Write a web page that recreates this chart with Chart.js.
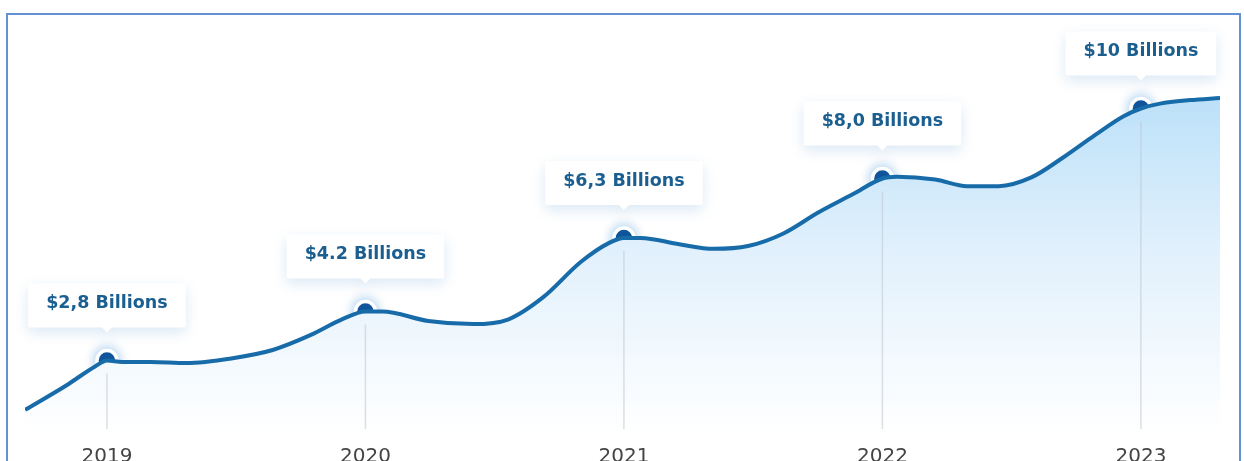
<!DOCTYPE html>
<html>
<head>
<meta charset="utf-8">
<script src="https://cdn.jsdelivr.net/npm/chart.js@4.4.1/dist/chart.umd.min.js"></script>
<style>
  html, body { margin: 0; padding: 0; background: #fff; overflow: hidden; }
  #wrap { position: relative; width: 1244px; height: 461px; overflow: hidden; }
  #box { position: absolute; left: 0; top: 0; width: 1244px; height: 475px; }
  #frame {
    position: absolute; left: 6px; top: 13px; width: 1231px; height: 470px;
    border: 2px solid #6291d4; border-bottom: none; pointer-events: none;
  }
</style>
</head>
<body>
<div id="wrap">
  <div id="box"><canvas id="revChart"></canvas></div>
  <div id="frame"></div>
</div>
<script>
// Receita anual (bilhões de dólares)
const years = [2019, 2020, 2021, 2022, 2023];
const revenue = [2.8, 4.2, 6.3, 8.0, 10];
const revenueLabels = ['$2,8 Billions', '$4.2 Billions', '$6,3 Billions', '$8,0 Billions', '$10 Billions'];

// Traçado da curva de tendência (ano, valor)
const curveYears = [
  2018.683, 2018.841, 2018.954, 2019,
  2019.059, 2019.170, 2019.307, 2019.481, 2019.641, 2019.789, 2019.911, 2020,
  2020.065, 2020.243, 2020.417, 2020.551, 2020.688, 2020.834, 2020.943, 2021,
  2021.065, 2021.214, 2021.347, 2021.480, 2021.617, 2021.750, 2021.883, 2022,
  2022.056, 2022.204, 2022.327, 2022.450, 2022.576, 2022.699, 2022.822, 2022.933, 2023,
  2023.074, 2023.190, 2023.306
];
const curveValues = [
  1.39, 2.08, 2.63, 2.8,
  2.76, 2.76, 2.73, 2.86, 3.10, 3.53, 3.98, 4.2,
  4.2, 3.93, 3.84, 3.97, 4.61, 5.62, 6.16, 6.3,
  6.3, 6.12, 5.99, 6.07, 6.43, 7.02, 7.54, 8.0,
  8.05, 7.97, 7.78, 7.78, 8.03, 8.60, 9.24, 9.78, 10,
  10.14, 10.24, 10.30
];

const xMin = 2018.683;
const xMax = 2023.306;

const lineColor = '#186ba9';
const labelColor = '#1b5e90';

// Linhas verticais de cada ano + balões com o valor
const calloutPlugin = {
  id: 'callouts',
  beforeDatasetDraw(chart, args) {
    if (args.index !== 1) return;
    const c = chart.ctx;
    c.save();
    c.shadowColor = 'rgba(40, 130, 210, 0.45)';
    c.shadowBlur = 12;
  },
  afterDatasetDraw(chart, args) {
    if (args.index !== 1) return;
    chart.ctx.restore();
  },
  afterDatasetsDraw(chart) {
    const c = chart.ctx;
    const area = chart.chartArea;
    const pts = chart.getDatasetMeta(1).data;

    c.save();
    c.strokeStyle = 'rgba(190, 198, 208, 0.55)';
    c.lineWidth = 1.5;
    pts.forEach(p => {
      c.beginPath();
      c.moveTo(p.x, p.y + 13);
      c.lineTo(p.x, area.bottom - 5);
      c.stroke();
    });
    c.restore();

    c.save();
    c.font = 'bold 17.5px "DejaVu Sans", sans-serif';
    pts.forEach((p, i) => {
      const txt = revenueLabels[i];
      const w = c.measureText(txt).width + 36;
      const h = 44;
      const bottom = p.y - 33;
      const top = bottom - h;
      const left = p.x - w / 2;

      c.save();
      c.shadowColor = 'rgba(30, 110, 190, 0.16)';
      c.shadowBlur = 14;
      c.shadowOffsetY = 5;
      c.fillStyle = '#ffffff';
      c.beginPath();
      c.roundRect(left, top, w, h, 2);
      c.moveTo(p.x - 5, bottom);
      c.lineTo(p.x, bottom + 5);
      c.lineTo(p.x + 5, bottom);
      c.closePath();
      c.fill();
      c.restore();

      c.fillStyle = labelColor;
      c.textAlign = 'center';
      c.textBaseline = 'middle';
      c.fillText(txt, p.x, top + h / 2 - 2);
    });
    c.restore();
  }
};

const ctx = document.getElementById('revChart').getContext('2d');

new Chart(ctx, {
  type: 'line',
  data: {
    datasets: [
      {
        label: 'Tendência',
        data: curveYears.map((x, i) => ({ x: x, y: curveValues[i] })),
        borderColor: lineColor,
        borderWidth: 4,
        pointRadius: 0,
        cubicInterpolationMode: 'monotone',
        fill: 'start',
        backgroundColor: (context) => {
          const { chart } = context;
          const area = chart.chartArea;
          if (!area) return 'rgba(180, 220, 245, 0.5)';
          const g = chart.ctx.createLinearGradient(0, area.top, 0, area.bottom);
          g.addColorStop(0, '#a6d6f5');
          g.addColorStop(0.25, '#c1e3f9');
          g.addColorStop(0.55, '#e0f0fc');
          g.addColorStop(0.85, '#f5fafe');
          g.addColorStop(1, '#ffffff');
          return g;
        }
      },
      {
        label: 'Receita',
        data: years.map((x, i) => ({ x: x, y: revenue[i] })),
        showLine: false,
        pointRadius: 10,
        pointBorderWidth: 3.5,
        pointBorderColor: '#ffffff',
        pointBackgroundColor: '#0d4f93'
      }
    ]
  },
  options: {
    responsive: true,
    maintainAspectRatio: false,
    animation: false,
    devicePixelRatio: 1,
    layout: { padding: { left: 25, right: 24, top: 14, bottom: 3 } },
    plugins: {
      legend: { display: false },
      tooltip: { enabled: false }
    },
    scales: {
      x: {
        type: 'linear',
        min: xMin,
        max: xMax,
        afterBuildTicks: (scale) => {
          scale.ticks = years.map(v => ({ value: v }));
        },
        grid: { display: false },
        border: { display: false },
        ticks: {
          autoSkip: false,
          maxRotation: 0,
          padding: 3,
          color: '#444444',
          font: { family: '"DejaVu Sans", sans-serif', size: 20 },
          callback: (v) => String(v)
        }
      },
      y: {
        display: false,
        min: 0.7,
        max: 12.7
      }
    }
  },
  plugins: [calloutPlugin]
});
</script>
</body>
</html>
